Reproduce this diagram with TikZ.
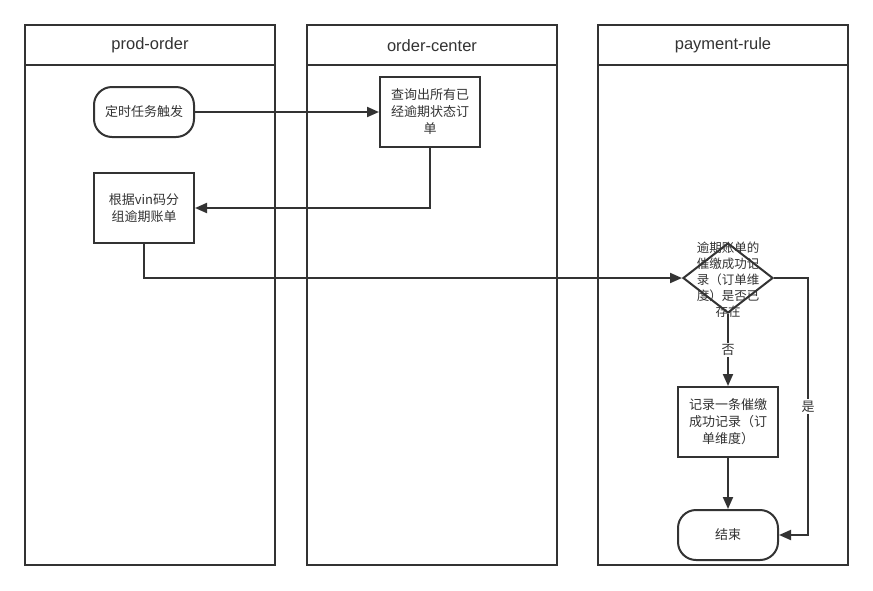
\documentclass[tikz,border=0pt]{standalone}
\usepackage{fontspec}
\setmainfont{Noto Sans CJK SC}
\newfontfamily\hdrfont{Liberation Sans}
\usetikzlibrary{arrows.meta,shapes.geometric}
\definecolor{ink}{HTML}{333333}
\tikzset{
  lane/.style={draw=ink, line width=2pt},
  hdr/.style={font=\hdrfont\fontsize{16.5}{19}\selectfont, text=ink},
  box/.style={draw=ink, line width=2pt, minimum width=100pt, minimum height=70pt, inner sep=0pt, align=center, font=\fontsize{13}{17}\selectfont, text=ink},
  term/.style={draw=ink, line width=2pt, minimum width=100pt, minimum height=50pt, inner sep=0pt, rounded corners=18pt, align=center, font=\fontsize{13}{17}\selectfont, text=ink},
  dec/.style={diamond, draw=ink, line width=2pt, minimum width=90pt, minimum height=70pt, inner sep=0pt},
  dectext/.style={align=center, font=\fontsize{12.5}{16}\selectfont, text=ink, inner sep=0pt},
  arr/.style={draw=ink, line width=2pt, -{Triangle[length=12pt,width=10pt]}},
  lbl/.style={fill=white, inner sep=1.5pt, font=\fontsize{13}{15}\selectfont, text=ink}
}
\begin{document}
\begin{tikzpicture}[x=1pt,y=-1pt]
\useasboundingbox[fill=white] (0,0) rectangle (873,590);
% lanes
\draw[lane] (25,25) rectangle (275,565);
\draw[lane] (25,65) -- (275,65);
\node[hdr] (h1) at (150,45.5) {prod-order};
\draw[lane] (307,25) rectangle (557,565);
\draw[lane] (307,65) -- (557,65);
\node[hdr] (h2) at (432,45.5) {order-center};
\draw[lane] (598,25) rectangle (848,565);
\draw[lane] (598,65) -- (848,65);
\node[hdr] (h3) at (723,45.5) {payment-rule};
% nodes
\node[term] (t1) at (144,112) {定时任务触发};
\node[box] (q1) at (430,112) {查询出所有已\\经逾期状态订\\单};
\node[box] (g1) at (144,208) {根据vin码分\\组逾期账单};
\node[dec] (d) at (728,278) {};
\node[dectext] (dt) at (728,280) {逾期账单的\\催缴成功记\\录（订单维\\度）是否已\\存在};
\node[box] (r1) at (728,422) {记录一条催缴\\成功记录（订\\单维度）};
\node[term] (e1) at (728,535) {结束};
\coordinate (c1) at (808,278);
% connectors
\draw[arr] (t1) -- (q1);
\draw[arr] (q1.south) |- (g1.east);
\draw[arr] (g1.south) |- (d.west);
\draw[arr] (d.south) -- node[lbl] {否} (r1.north);
\draw[arr] (r1) -- (e1);
\draw[arr] (d.east) -- (c1) -- node[lbl] {是} (c1 |- e1.east) -- (e1.east);
\end{tikzpicture}
\end{document}
